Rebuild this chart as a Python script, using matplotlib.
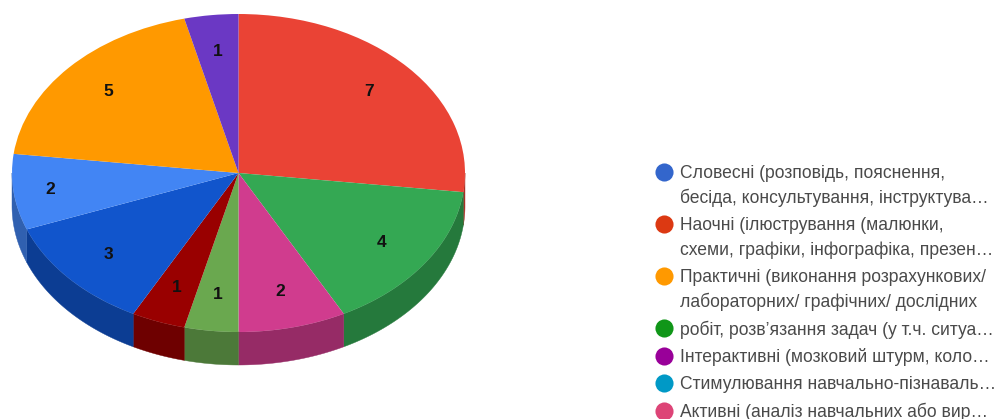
import numpy as np
import matplotlib
matplotlib.use("Agg")
import matplotlib.pyplot as plt
from matplotlib.colors import to_rgb
from matplotlib.transforms import Affine2D

# ── Data ──────────────────────────────────────────────────────────────────────
slice_values = [7, 4, 2, 1, 1, 3, 2, 5, 1]
slice_colors = ["#EA4335", "#34A853", "#D03C8E", "#6AA84F", "#990000",
                "#1155CC", "#4285F4", "#FF9900", "#6B38C4"]

legend_entries = [
    ["Словесні (розповідь, пояснення,", "бесіда, консультування, інструктува…"],
    ["Наочні (ілюстрування (малюнки,", "схеми, графіки, інфографіка, презен…"],
    ["Практичні (виконання розрахункових/", "лабораторних/ графічних/ дослідних"],
    ["робіт, розв’язання задач (у т.ч. ситуа…"],
    ["Інтерактивні (мозковий штурм, коло…"],
    ["Стимулювання навчально-пізнаваль…"],
    ["Активні (аналіз навчальних або вир…"],
]
legend_colors = ["#3366CC", "#DC3912", "#FF9900", "#109618",
                 "#990099", "#0099C6", "#DD4477"]

# ── Geometry (pixels) ─────────────────────────────────────────────────────────
W, H = 1001, 419
CX, CY = 238.5, 246
RX, RY = 226.5, 159
DEPTH = 33
WALL_SHADE = 0.72

plt.rcParams["font.family"] = ["Liberation Sans", "DejaVu Sans"]

fig = plt.figure(figsize=(W / 100, H / 100), dpi=100, facecolor="white")
ax = fig.add_axes([0, 0, 1, 1])

# ── Side wall of the disc, front half only ────────────────────────────────────
total = sum(slice_values)
edges = np.cumsum([0] + slice_values) / total * 360
for v0, v1, color in zip(edges[:-1], edges[1:], slice_colors):
    a0, a1 = max(v0, 90), min(v1, 270)
    if a0 >= a1:
        continue
    t = np.radians(np.linspace(a0, a1, 60))
    x = CX + RX * np.sin(t)
    y = CY + RY * np.cos(t)
    ax.fill(np.r_[x, x[::-1]], np.r_[y, y[::-1] - DEPTH],
            color=tuple(c * WALL_SHADE for c in to_rgb(color)), lw=0.3, zorder=1)

# ── Top face ──────────────────────────────────────────────────────────────────
wedges, _, counts = ax.pie(
    slice_values, colors=slice_colors, startangle=90, counterclock=False,
    frame=True, pctdistance=0.77,
    autopct=lambda p: f"{p * total / 100:.0f}",
    textprops={"fontsize": 12.5, "fontweight": "bold", "color": "#111111"},
    wedgeprops={"linewidth": 0, "zorder": 2},
)
# pie draws a unit circle, squash it onto the ellipse
face = Affine2D().scale(RX, RY).translate(CX, CY) + ax.transData
for w in wedges:
    w.set_transform(face)
for txt in counts:
    txt.set_transform(face)
    txt.set_zorder(3)

# the light blue label sits further out than the others
px, py = counts[6].get_position()
counts[6].set_position((px * 1.085, py * 1.085))

# ── Legend ────────────────────────────────────────────────────────────────────
y = 172
for lines, color in zip(legend_entries, legend_colors):
    ax.scatter([664], [H - y], s=170, color=color, linewidths=0, zorder=3)
    for i, line in enumerate(lines):
        if i:
            y += 24.5
        ax.text(680, H - y - 1.5, line, fontsize=12.65, color="#4A4A4A",
                va="center", ha="left")
    y += 27.5

ax.set_xlim(0, W)
ax.set_ylim(0, H)
ax.set_aspect("auto")
ax.axis("off")

fig.savefig("out.png", dpi=100, facecolor="white")
